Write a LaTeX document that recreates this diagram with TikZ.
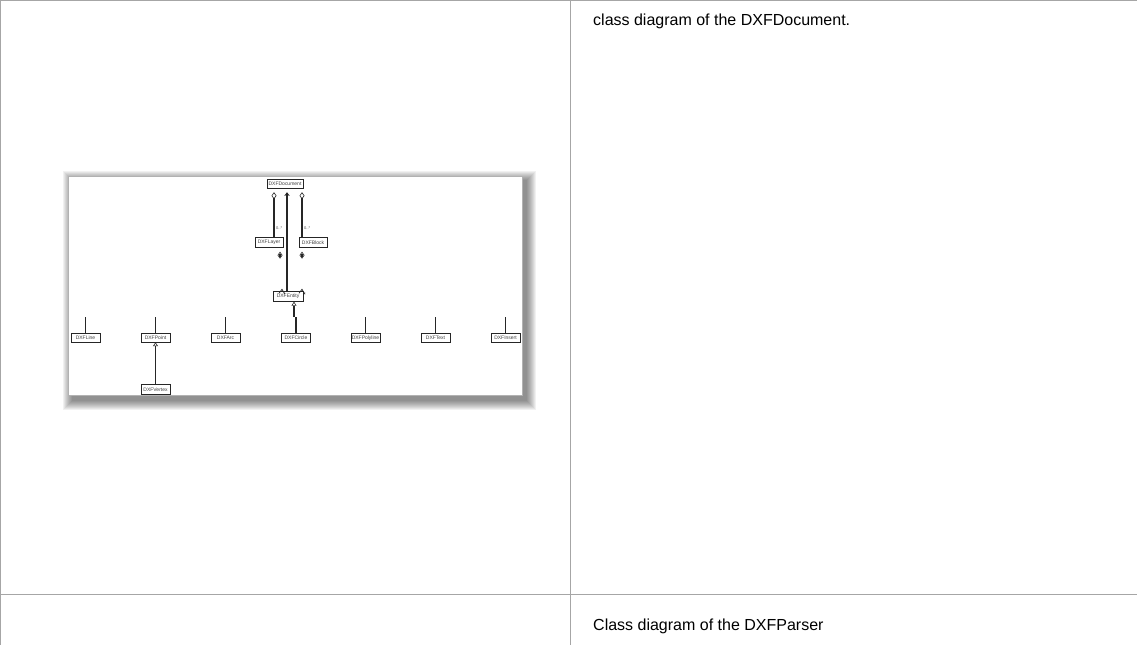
\documentclass[tikz,border=0pt]{standalone}
\usepackage{fontspec}
\setmainfont{Liberation Sans}
\usetikzlibrary{arrows.meta}
\definecolor{gridgray}{HTML}{A6A6A6}
\tikzset{
  grid line/.style={draw=gridgray, line width=1pt},
  caption/.style={anchor=base west, inner sep=0pt, font=\fontsize{16}{19}\selectfont},
  cls/.style={draw=black!85, fill=white, line width=0.9pt, inner sep=0pt,
    minimum width=29pt, minimum height=9.5pt, text=black!75,
    font=\fontsize{5}{5}\selectfont},
  conn/.style={draw=black!85, line width=1.4pt},
  aggr/.style={conn, {Diamond[open,length=7pt,width=5pt,line width=0.6pt]}-},
  nav/.style={conn, -{Straight Barb[length=3pt,width=4.5pt,line width=0.7pt]}},
  inh/.style={conn, -{Triangle[open,length=4pt,width=5pt,line width=0.6pt]}},
  mult/.style={inner sep=0pt, text=black!70, font=\fontsize{4}{4}\selectfont},
}
\begin{document}
\begin{tikzpicture}[x=1pt,y=-1pt]
\useasboundingbox (0,0) rectangle (1137,645);
% table grid
\draw[grid line] (0,0.5) -- (1137,0.5);
\draw[grid line] (0.5,0) -- (0.5,645);
\draw[grid line] (570.5,0) -- (570.5,645);
\draw[grid line] (0,594.5) -- (1137,594.5);
% captions
\node[caption] (cap1) at (593,25) {class diagram of the DXFDocument.};
\node[caption] (cap2) at (593,630) {Class diagram of the DXFParser};
% screenshot shadow
\foreach \r in {1,...,10}{
  \fill[black, opacity=0.055] (68+5-\r,176+5-\r) rectangle (522+4+\r,395+5+\r);
}
\fill[white] (68,176) rectangle (522,395);
\draw[black!30, line width=0.5pt] (68,176) rectangle (522,395);
% classes
\node[cls, minimum width=36pt] (doc) at (285,184) {DXFDocument};
\node[cls, minimum width=28pt] (layer) at (269,242.5) {DXFLayer};
\node[cls, minimum width=28pt] (block) at (313,242.5) {DXFBlock};
\node[cls, minimum width=30pt] (entity) at (288,296.5) {DXFEntity};
\node[cls] (line) at (85.5,338) {DXFLine};
\node[cls] (point) at (155.5,338) {DXFPoint};
\node[cls] (arc) at (225.5,338) {DXFArc};
\node[cls] (circle) at (296,338) {DXFCircle};
\node[cls] (polyline) at (365.5,338) {DXFPolyline};
\node[cls] (text) at (435.5,338) {DXFText};
\node[cls] (insert) at (505.5,338) {DXFInsert};
\node[cls] (vertex) at (155.5,389.5) {DXFVertex};
% document associations
\draw[aggr] ([xshift=-11pt,yshift=-3pt]doc.south) -- ([xshift=5pt]layer.north)
  node[mult, pos=0.8, right=1.5pt] (m1) {0..*};
\draw[aggr] ([xshift=17pt,yshift=-3pt]doc.south) -- ([xshift=-11pt]block.north)
  node[mult, pos=0.8, right=1.5pt] (m2) {0..*};
\draw[nav] (entity.north -| {(287,0)}) -- ([xshift=2pt,yshift=-3pt]doc.south);
% layer / block aggregates of entities (visible ends only)
\draw[aggr] ([xshift=11pt,yshift=-4pt]layer.south) -- ++(0,2);
\draw[aggr] ([xshift=-11pt,yshift=-4pt]block.south) -- ++(0,2);
\coordinate (la) at ([xshift=-6pt,yshift=2pt]entity.north);
\coordinate (lb) at ([xshift=14pt,yshift=2pt]entity.north);
\draw[conn, line width=0.7pt] ([xshift=-3pt,yshift=-4pt]la) -- (la) -- ([xshift=3pt,yshift=-5pt]la);
\draw[conn, line width=0.7pt] ([xshift=-3pt,yshift=-4pt]lb) -- (lb) -- ([xshift=3pt,yshift=-5pt]lb);
\node[mult, right=1.5pt] (m3) at ([yshift=-5pt]la) {*};
\node[mult, right=2pt] (m4) at ([yshift=-5pt]lb) {*};
% inheritance
\coordinate (bus) at (294,317);
\draw[inh] (bus) -- ([xshift=6pt,yshift=0pt]entity.south);
\foreach \c in {line,point,arc,circle,polyline,text,insert}{
  \draw[conn] (\c.north) -- ++(0,-16);
}
\draw[inh] (vertex.north) -- ([yshift=1pt]point.south);
\end{tikzpicture}
\end{document}
